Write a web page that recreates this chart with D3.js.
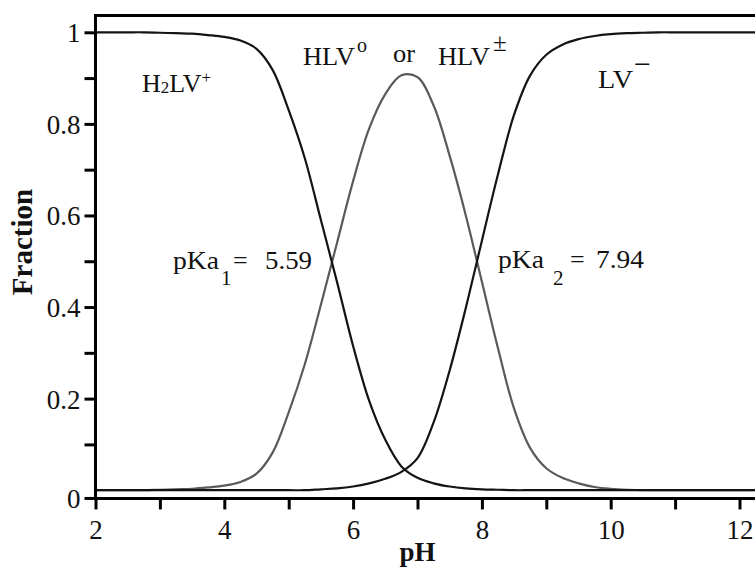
<!DOCTYPE html>
<html>
<head>
<meta charset="utf-8">
<script src="https://cdn.jsdelivr.net/npm/d3@7"></script>
<style>
  html, body { margin: 0; padding: 0; background: #fff; }
  svg { display: block; }
  svg text { font-family: "Liberation Serif", "Times New Roman", Times, serif !important; fill: #111; }
</style>
</head>
<body>
<svg id="chart" width="755" height="568" font-family="Liberation Serif"></svg>
<script>
// ---- data ----
const pH = [2.0, 2.25, 2.5, 2.75, 3.0, 3.25, 3.5, 3.75, 4.0, 4.25, 4.5, 4.75,
            5.0, 5.25, 5.5, 5.75, 6.0, 6.25, 6.5, 6.75, 7.0, 7.25, 7.5, 7.75,
            8.0, 8.25, 8.5, 8.75, 9.0, 9.25, 9.5, 9.75, 10.0, 10.25, 10.5, 10.75,
            11.0, 11.25, 11.5, 11.75, 12.0, 12.25];
const fracH2LV = [1.000, 1.000, 1.000, 1.000, 0.999, 0.998, 0.997, 0.994, 0.990, 0.982, 0.964, 0.918,
                  0.830, 0.725, 0.590, 0.455, 0.315, 0.195, 0.110, 0.052, 0.027, 0.015, 0.008, 0.004,
                  0.002, 0.001, 0, 0, 0, 0, 0, 0, 0, 0, 0, 0,
                  0, 0, 0, 0, 0, 0];
const fracHLV = [0, 0, 0, 0, 0.001, 0.002, 0.003, 0.006, 0.010, 0.018, 0.036, 0.082,
                 0.170, 0.275, 0.405, 0.540, 0.675, 0.790, 0.865, 0.906, 0.902, 0.840, 0.730, 0.600,
                 0.455, 0.310, 0.178, 0.092, 0.048, 0.027, 0.015, 0.007, 0.003, 0.001, 0, 0,
                 0, 0, 0, 0, 0, 0];
const fracLV = [0, 0, 0, 0, 0, 0, 0, 0, 0, 0, 0, 0,
                0, 0, 0.002, 0.004, 0.008, 0.015, 0.025, 0.040, 0.070, 0.148, 0.262, 0.398,
                0.545, 0.690, 0.820, 0.906, 0.951, 0.973, 0.985, 0.992, 0.996, 0.998, 0.999, 1.000,
                1.000, 1.000, 1.000, 1.000, 1.000, 1.000];
const xTicks = [2, 3, 4, 5, 6, 7, 8, 9, 10, 11, 12];
const xTickLabels = ["2", "", "4", "", "6", "", "8", "", "10", "", "12"];
const yTicks = [0.1, 0.2, 0.3, 0.4, 0.5, 0.6, 0.7, 0.8, 0.9, 1.0];
const yTickLabels = ["", "0.2", "", "0.4", "", "0.6", "", "0.8", "", "1"];
const axisBaseValue = -0.018;   // the drawn x-axis sits slightly below zero, labelled "0"
const axisBaseLabel = "0";

// ---- layout ----
const FONT = '"Liberation Serif", "Times New Roman", Times, serif';
const svg = d3.select("#chart");
const x = d3.scaleLinear().domain([2, 12]).range([95.5, 739.5]);
const y = d3.scaleLinear().domain([0, 1]).range([490.2, 32.3]);
const xEnd = 755;
const yTop = 15.5;
const yAxisPos = y(axisBaseValue);

// ---- curves ----
const series = [
  { values: fracHLV, color: "#5a5a5a" },
  { values: fracH2LV, color: "#141414" },
  { values: fracLV, color: "#141414" }
];
const line = d3.line()
  .x((d, i) => x(pH[i]))
  .y(d => y(d))
  .curve(d3.curveCatmullRom.alpha(0.5));
svg.append("g").selectAll("path").data(series).join("path")
  .attr("d", s => line(s.values))
  .attr("fill", "none")
  .attr("stroke", s => s.color)
  .attr("stroke-width", 2.2)
  .attr("stroke-linejoin", "round");

// ---- frame lines ----
svg.append("line").attr("x1", x(2)).attr("x2", xEnd).attr("y1", yTop).attr("y2", yTop)
  .attr("stroke", "#000").attr("stroke-width", 3);
svg.append("line").attr("x1", x(2)).attr("x2", x(2)).attr("y1", yTop - 1.5).attr("y2", yAxisPos + 1.5)
  .attr("stroke", "#000").attr("stroke-width", 3);
svg.append("line").attr("x1", x(2) - 1.5).attr("x2", xEnd).attr("y1", yAxisPos).attr("y2", yAxisPos)
  .attr("stroke", "#000").attr("stroke-width", 3);

// ---- x axis ----
const gx = svg.append("g").attr("transform", `translate(0,${yAxisPos})`)
  .call(d3.axisBottom(x).tickValues(xTicks).tickSize(11).tickSizeOuter(0)
    .tickFormat((d, i) => xTickLabels[i]));
gx.attr("font-family", FONT).attr("font-size", 27);
gx.select(".domain").remove();
gx.selectAll(".tick line").attr("stroke", "#000").attr("stroke-width", 3);
gx.selectAll(".tick text")
  .attr("y", 40.5).attr("dy", null)
  .attr("font-family", FONT).attr("font-size", 27).attr("fill", "#111");

// ---- y axis ----
const gy = svg.append("g").attr("transform", `translate(${x(2)},0)`)
  .call(d3.axisLeft(y).tickValues(yTicks).tickSize(11).tickSizeOuter(0)
    .tickFormat((d, i) => yTickLabels[i]));
gy.attr("font-family", FONT).attr("font-size", 27);
gy.select(".domain").remove();
gy.selectAll(".tick line").attr("stroke", "#000").attr("stroke-width", 3);
gy.selectAll(".tick text")
  .attr("x", -15).attr("dy", "0.35em")
  .attr("font-family", FONT).attr("font-size", 27).attr("fill", "#111");
// zero tick at the drawn axis line
const g0 = svg.append("g").attr("transform", `translate(${x(2)},${yAxisPos})`);
g0.append("line").attr("x1", -11).attr("x2", 0).attr("stroke", "#000").attr("stroke-width", 3);
g0.append("text").attr("x", -15).attr("dy", "0.35em").attr("text-anchor", "end")
  .attr("font-size", 27).text(axisBaseLabel);

// ---- axis titles ----
svg.append("text").attr("x", (x(2) + x(12)) / 2).attr("y", 561)
  .attr("text-anchor", "middle").attr("font-size", 27).attr("font-weight", "bold").text("pH");
svg.append("text").attr("transform", "translate(32,242) rotate(-90)")
  .attr("text-anchor", "middle").attr("font-size", 29).attr("font-weight", "bold").text("Fraction");

// ---- species labels ----
function label(px, py, size, str, len) {
  const t = svg.append("text").attr("x", px).attr("y", py).attr("font-size", size).text(str);
  if (len) t.attr("textLength", len).attr("lengthAdjust", "spacingAndGlyphs");
  return t;
}
const t1 = svg.append("text").attr("x", 142).attr("y", 92).attr("font-size", 26);
t1.append("tspan").text("H");
t1.append("tspan").attr("font-size", 17).attr("dy", 1).text("2");
t1.append("tspan").attr("font-size", 26).attr("dy", -1).text("LV");
t1.append("tspan").attr("font-size", 17).attr("dy", -9).text("+");

label(303, 65, 25, "HLV", 52);
label(357, 52, 20, "o");
label(393, 62, 25, "or", 22);
label(438, 65, 25, "HLV", 52);
label(493, 51, 25, "±");

label(598, 88, 26, "LV", 35);
label(634, 74, 30, "−");

// pKa annotations
label(173, 269, 26, "pKa", 46);
label(221, 285, 21, "1");
label(233, 269, 26, "=");
label(265, 269, 26, "5.59", 47);

label(498, 268, 26, "pKa", 46);
label(553, 285, 21, "2");
label(570, 268, 26, "=");
label(596, 268, 26, "7.94", 48);
</script>
</body>
</html>
